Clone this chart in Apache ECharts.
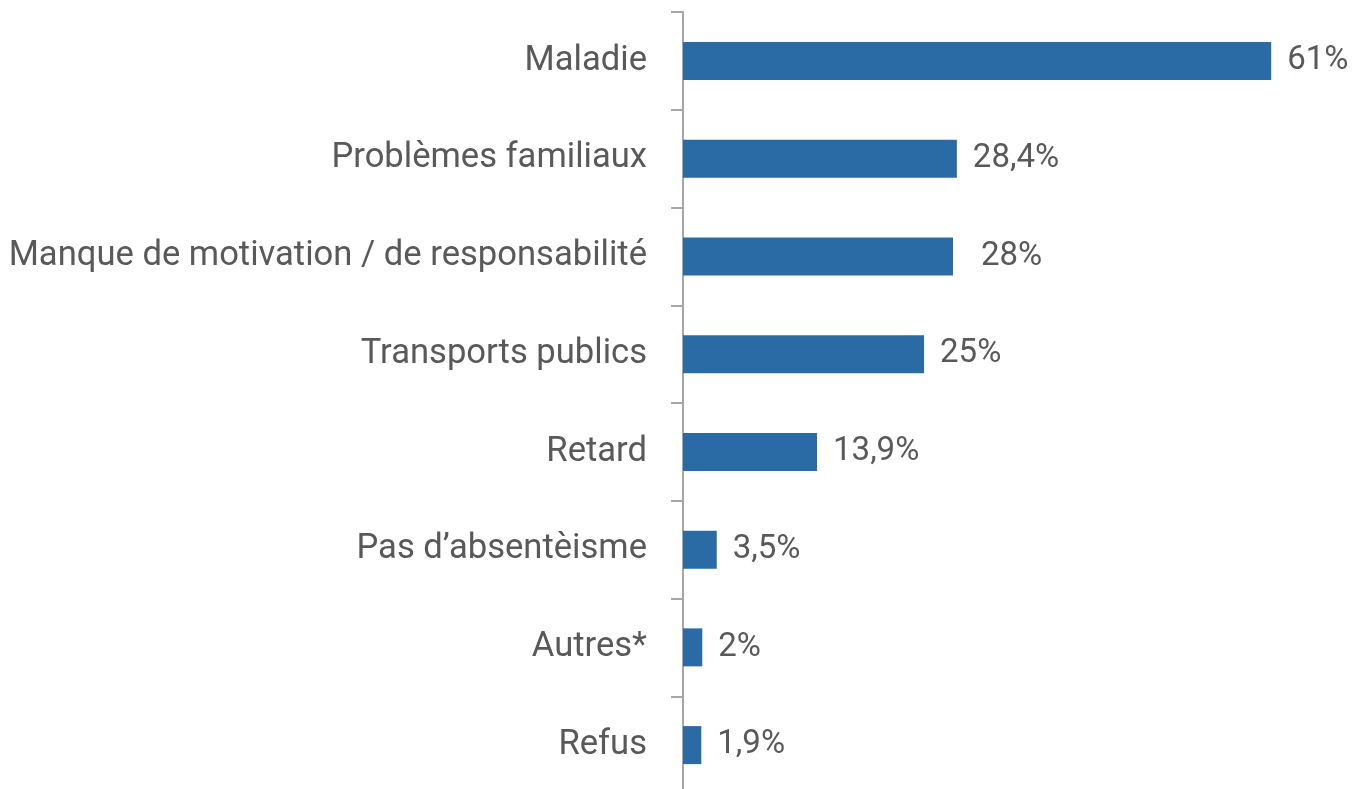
<!DOCTYPE html>
<html>
<head>
<meta charset="utf-8">
<script src="https://cdn.jsdelivr.net/npm/echarts@6/dist/echarts.min.js"></script>
<style>
  html, body { margin: 0; padding: 0; background: #fff; }
  #chart { width: 1368px; height: 789px; }
</style>
</head>
<body>
<div id="chart"></div>
<script>
// Motifs d'absentéisme (en %)
const categories = [
  'Maladie',
  'Problèmes familiaux',
  'Manque de motivation / de responsabilité',
  'Transports publics',
  'Retard',
  'Pas d’absentèisme',
  'Autres*',
  'Refus'
];
const values = [61, 28.4, 28, 25, 13.9, 3.5, 2, 1.9];
const valueLabels = ['61%', '28,4%', '28%', '25%', '13,9%', '3,5%', '2%', '1,9%'];

const textColor = '#595959';
const barColor = '#2A6BA6';
const axisGrey = '#A6A6A6';
const fontFamily = 'Roboto, "Noto Sans", sans-serif';

const chart = echarts.init(document.getElementById('chart'), null, { renderer: 'canvas' });

chart.setOption({
  animation: false,
  backgroundColor: '#ffffff',
  grid: { left: 683, top: 12, width: 675, height: 782, outerBoundsMode: 'none', containLabel: false },
  xAxis: {
    type: 'value',
    min: 0,
    max: 70,
    show: false
  },
  yAxis: {
    type: 'category',
    inverse: true,
    data: categories,
    axisLine: { show: true, lineStyle: { color: axisGrey, width: 2 } },
    axisTick: { show: true, length: 12, lineStyle: { color: axisGrey, width: 2 } },
    axisLabel: {
      margin: 36,
      color: textColor,
      fontSize: 34.6,
      fontFamily: fontFamily,
      padding: [6, 0, 0, 0]
    },
    splitLine: { show: false }
  },
  series: [{
    type: 'bar',
    data: values.map((v, i) => ({
      value: v,
      label: { distance: i === 2 ? 28 : 16 }
    })),
    barWidth: 38,
    itemStyle: { color: barColor },
    label: {
      show: true,
      position: 'right',
      color: textColor,
      fontSize: 33,
      fontFamily: fontFamily,
      padding: [5, 0, 0, 0],
      formatter: p => valueLabels[p.dataIndex]
    }
  }]
});
</script>
</body>
</html>
